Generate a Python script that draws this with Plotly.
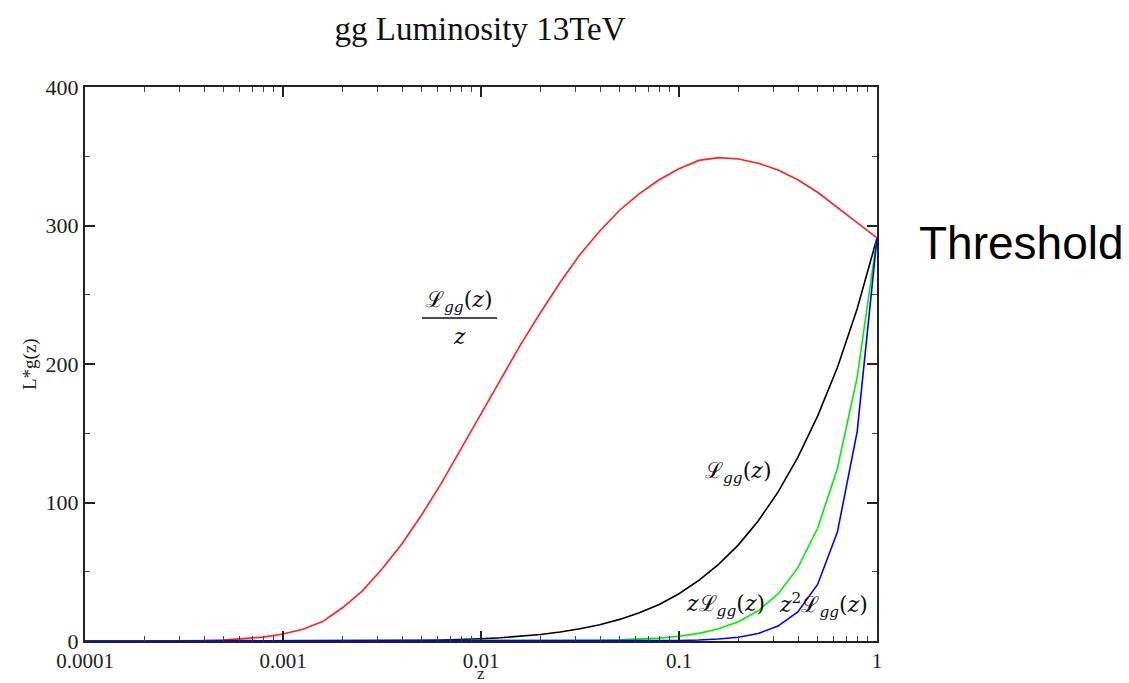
import plotly.graph_objects as go

# Momentum fraction grid: ten log-spaced points per decade, 1e-4 .. 1
z = [10 ** (k / 10) for k in range(-40, 1)]

# gg luminosity curves at 13 TeV (values on the grid above)
lum_over_z = [0, 0, 0, 0, 0, 0.1, 0.3, 0.7, 1.5, 2.8,
              5, 8.5, 14, 24, 36, 52, 70, 91, 114, 139,
              165, 190, 214, 237, 259, 279, 296, 311, 323, 333,
              341, 347, 349, 348, 345, 340, 333, 324, 313, 302,
              291]
lum = [0, 0, 0, 0, 0, 0, 0, 0, 0, 0,
       0.005, 0.011, 0.022, 0.048, 0.09, 0.16, 0.28, 0.46, 0.72, 1.1,
       1.65, 2.4, 3.4, 4.7, 6.5, 8.8, 11.8, 15.6, 20.4, 26.4,
       34.1, 43.7, 55.3, 69.4, 86.7, 107.5, 132.6, 162.4, 197.5, 239.9,
       291]
z_lum = [0, 0, 0, 0, 0, 0, 0, 0, 0, 0,
         0, 0, 0, 0, 0, 0, 0, 0.002, 0.005, 0.009,
         0.017, 0.03, 0.054, 0.094, 0.16, 0.28, 0.47, 0.78, 1.29, 2.1,
         3.41, 5.5, 8.77, 13.85, 21.8, 34.0, 52.8, 81.4, 124.6, 190.5,
         291]
z2_lum = [0, 0, 0, 0, 0, 0, 0, 0, 0, 0,
          0, 0, 0, 0, 0, 0, 0, 0, 0, 0,
          0, 0, 0.001, 0.002, 0.004, 0.009, 0.02, 0.04, 0.08, 0.17,
          0.34, 0.69, 1.39, 2.76, 5.47, 10.75, 21.0, 40.8, 78.6, 151.3,
          291]

series = [
    (lum_over_z, "#ff2020"),
    (lum, "#000000"),
    (z_lum, "#00ee00"),
    (z2_lum, "#0000ff"),
]

x_ticks = [0.0001, 0.001, 0.01, 0.1, 1]
x_ticktext = ["0.0001", "0.001", "0.01", "0.1", "1"]
y_ticks = [0, 100, 200, 300, 400]

# plot-area geometry in pixels, used to place the labels
L, R, T, B = 85, 877, 87, 641
W, H = R - L, B - T


def px(x, y):
    return (x - L) / W, (B - y) / H


fig = go.Figure()
for values, color in series:
    fig.add_trace(go.Scatter(x=z, y=values, mode="lines",
                             line=dict(color=color, width=1.6),
                             showlegend=False, hoverinfo="skip"))

serif = "Liberation Serif, Times New Roman, serif"
axis_common = dict(showline=True, linecolor="#222", linewidth=2, mirror="ticks",
                   ticks="inside", ticklen=10, tickwidth=1.5, tickcolor="#222",
                   showgrid=False, zeroline=False, automargin=False)

fig.update_xaxes(type="log", range=[-4, 0], tickvals=x_ticks, ticktext=x_ticktext,
                 minor=dict(ticks="inside", ticklen=5, tickwidth=1.2, tickcolor="#444",
                            dtick="D1", showgrid=False),
                 tickfont=dict(family=serif, size=21, color="#222"),
                 ticklabelstandoff=0,
                 **axis_common)
fig.update_yaxes(range=[0, 400], tickvals=y_ticks,
                 minor=dict(ticks="inside", ticklen=5, tickwidth=1.2, tickcolor="#444",
                            dtick=50, showgrid=False),
                 tickfont=dict(family=serif, size=22, color="#222"),
                 **axis_common)

math_font = dict(family="DejaVu Serif, serif", size=22, color="#111")
L_gg = "ℒ<sub><i>gg</i></sub>(<i>z</i>)"


def label(x, y, text, font=math_font, angle=0):
    ax, ay = px(x, y)
    fig.add_annotation(x=ax, y=ay, xref="paper", yref="paper", text=text,
                       showarrow=False, font=font, textangle=angle, borderpad=0,
                       xanchor="center", yanchor="middle")


# axis titles
label(481, 673, "z", dict(family=serif, size=17, color="#222"))
label(30, 364, "L*g(z)", dict(family=serif, size=19, color="#222"), angle=-90)

# curve labels
label(459, 301, L_gg)
label(459, 336, "<i>z</i>")
x0, yl = px(422, 318)
x1, _ = px(497, 318)
fig.add_shape(type="line", xref="paper", yref="paper", x0=x0, x1=x1, y0=yl, y1=yl,
              line=dict(color="#111", width=1.6))
label(738, 472, L_gg)
label(725, 605, "<i>z</i>" + L_gg)
label(823, 605, "<i>z</i><sup>2</sup>" + L_gg)
label(1021, 243, "Threshold",
      dict(family="Liberation Sans, Arial, sans-serif", size=46, color="#000"))

fig.update_layout(
    width=1129, height=683,
    margin=dict(l=L, r=1129 - R, t=T, b=683 - B, autoexpand=False),
    paper_bgcolor="white", plot_bgcolor="white",
    title=dict(text="gg Luminosity 13TeV", x=480 / 1129, y=1 - 28 / 683,
               xanchor="center", yanchor="middle",
               font=dict(family=serif, size=33, color="#111")),
)

fig.write_html("out.html")
